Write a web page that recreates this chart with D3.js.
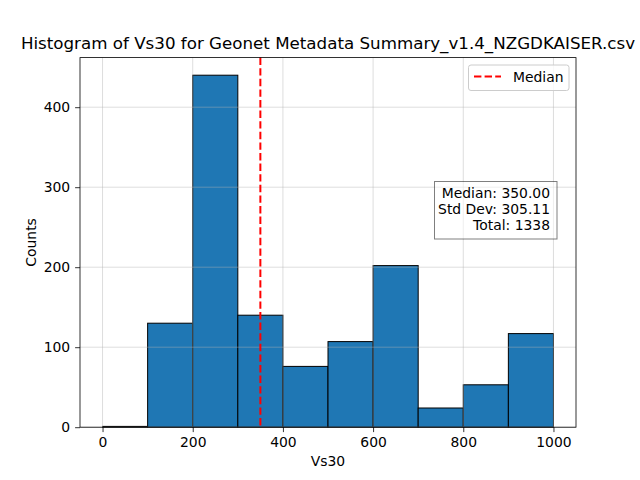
<!DOCTYPE html>
<html><head><meta charset="utf-8">
<script src="https://cdn.jsdelivr.net/npm/d3@7"></script>
<style>body{margin:0;background:#fff}svg{display:block}text{font-family:"DejaVu Sans",sans-serif;fill:#000}</style>
</head><body><svg id="c" width="640" height="480"></svg>
<script>
const binStarts = [0,100,200,300,400,500,600,700,800,900];
const binWidth = 100;
const counts = [1,130,440,140,76,107,202,24,53,117];
const xTicks = [0,200,400,600,800,1000];
const yTicks = [0,100,200,300,400];
const medianValue = 350;
const statsLines = ["Median: 350.00","Std Dev: 305.11","Total: 1338"];
const titleText = "Histogram of Vs30 for Geonet Metadata Summary_v1.4_NZGDKAISER.csv";

const svg = d3.select("#c");
const L=80,R=576,T=57.6,B=427.2;
const x = d3.scaleLinear().domain([-50,1050]).range([L,R]);
const y = d3.scaleLinear().domain([0,462]).range([B,T]);

// bars
svg.append("g").selectAll("rect").data(binStarts).join("rect")
  .attr("x",(d)=>x(d)).attr("width",(d)=>x(d+binWidth)-x(d))
  .attr("y",(d,i)=>y(counts[i])).attr("height",(d,i)=>B-y(counts[i]))
  .attr("fill","#1f77b4").attr("stroke","#000").attr("stroke-width",1);

// grid
const g = svg.append("g").attr("stroke","#b0b0b0").attr("stroke-opacity",0.55).attr("stroke-width",0.8);
g.selectAll(".vx").data(xTicks).join("line").attr("x1",d=>x(d)).attr("x2",d=>x(d)).attr("y1",T).attr("y2",B);
g.selectAll(".hy").data(yTicks).join("line").attr("y1",d=>y(d)).attr("y2",d=>y(d)).attr("x1",L).attr("x2",R);

// median line
svg.append("line").attr("x1",x(medianValue)).attr("x2",x(medianValue)).attr("y1",T).attr("y2",B)
  .attr("stroke","#ff0000").attr("stroke-width",2).attr("stroke-dasharray","7.4,3.2");

// axes
const xa = svg.append("g").attr("transform",`translate(0,${B})`)
  .call(d3.axisBottom(x).tickValues(xTicks).tickSize(4.9).tickPadding(4.9).tickFormat(d3.format("d")));
const ya = svg.append("g").attr("transform",`translate(${L},0)`)
  .call(d3.axisLeft(y).tickValues(yTicks).tickSize(4.9).tickPadding(4.9).tickFormat(d3.format("d")));
[xa,ya].forEach(a=>{a.select(".domain").remove();a.selectAll("text").attr("font-size","13.9px").attr("font-family","DejaVu Sans").attr("fill","#000");a.selectAll("line").attr("stroke","#000").attr("stroke-width",0.8);});
svg.append("rect").attr("x",L).attr("y",T).attr("width",R-L).attr("height",B-T).attr("fill","none").attr("stroke","#000").attr("stroke-width",0.8);

// labels
svg.append("text").attr("x",(L+R)/2).attr("y",49).attr("text-anchor","middle").attr("font-size","16.7px").text(titleText);
svg.append("text").attr("x",(L+R)/2).attr("y",466).attr("text-anchor","middle").attr("font-size","13.9px").text("Vs30");
svg.append("text").attr("transform",`translate(36,${(T+B)/2}) rotate(-90)`).attr("text-anchor","middle").attr("font-size","13.9px").text("Counts");

// legend
svg.append("rect").attr("x",468.5).attr("y",65).attr("width",100.5).attr("height",25.5).attr("rx",2.5)
  .attr("fill","#fff").attr("fill-opacity",0.8).attr("stroke","#cccccc").attr("stroke-width",1);
svg.append("line").attr("x1",474).attr("x2",501).attr("y1",76.5).attr("y2",76.5)
  .attr("stroke","#ff0000").attr("stroke-width",2).attr("stroke-dasharray","7.4,3.2");
svg.append("text").attr("x",513).attr("y",81.5).attr("font-size","13.9px").text("Median");

// stats box
svg.append("rect").attr("x",434.5).attr("y",181.5).attr("width",122.5).attr("height",57.5)
  .attr("fill","#fff").attr("fill-opacity",0.5).attr("stroke","#000").attr("stroke-opacity",0.5).attr("stroke-width",1);
svg.append("g").selectAll("text").data(statsLines).join("text")
  .attr("x",550).attr("y",(d,i)=>197.5+i*16.2).attr("text-anchor","end").attr("font-size","13.9px").text(d=>d);
</script></body></html>
